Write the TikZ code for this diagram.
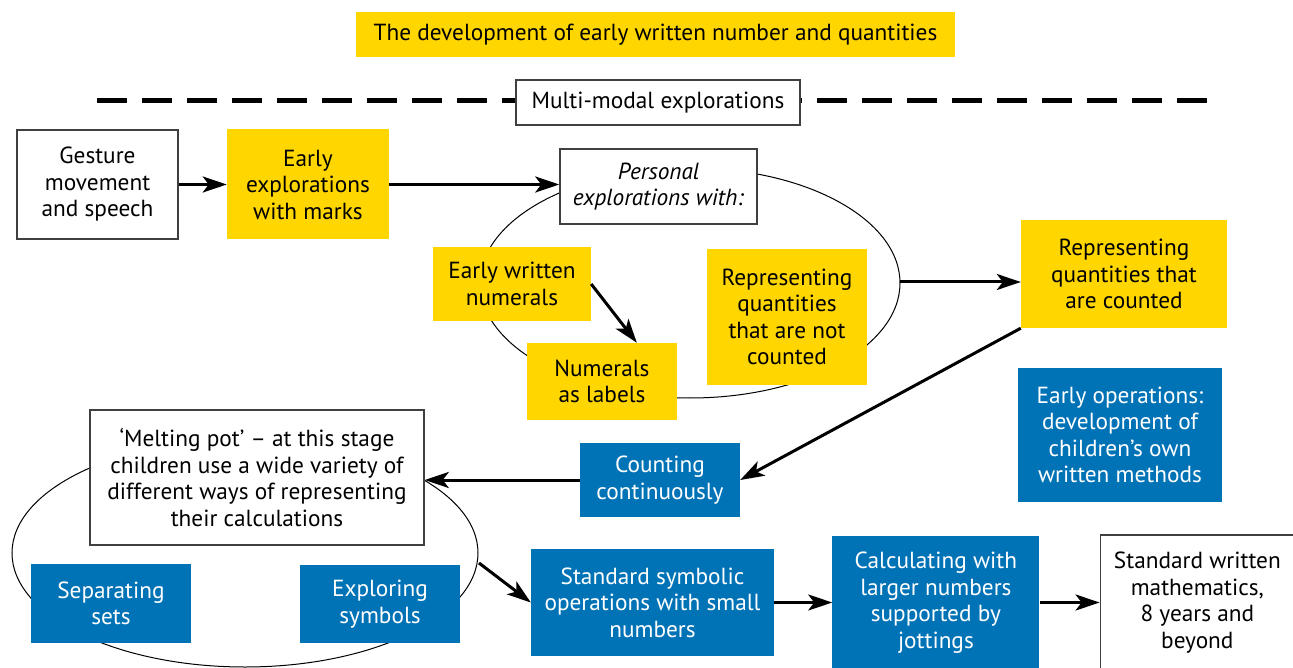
\documentclass[tikz,border=0pt]{standalone}
\usepackage{fontspec}
\setmainfont{PT Sans}
\usetikzlibrary{positioning}
\usetikzlibrary{arrows.meta}
\definecolor{gold}{RGB}{255,214,0}
\definecolor{sea}{RGB}{0,114,182}
\tikzset{
    every node/.style={
        align=center,
        inner sep=0pt,
        font=\fontsize{23.3}{26.5}\selectfont},
    plainbox/.style={draw=black!75, line width=1.5pt, fill=white},
    yellowbox/.style={fill=gold},
    bluebox/.style={fill=sea, text=white},
    dashline/.style={line width=5pt, dash pattern=on 30pt off 15pt},
    loop line/.style={line width=1pt},
    every edge/.style={
        draw,
        -{Stealth[length=24pt,width=16pt,inset=6pt]},
        line width=3pt}}

\begin{document}
\begin{tikzpicture}[x=1pt,y=-1pt]
    \useasboundingbox (0,0) rectangle (1293,668);
    % heading and the dashed rule
    \node[yellowbox, minimum width=599pt, minimum height=45pt] (title) at (655.5,34.5) {The development of early written number and quantities};
    \coordinate (dl) at (97,101);
    \coordinate (dr) at (1208,101);
    \draw[dashline] (dl) -- (dr);
    \node[plainbox, minimum width=284pt, minimum height=45pt] (modes) at (658,102.5) {Multi-modal explorations};
    % the two loops
    \draw[loop line] (690,283) ellipse [x radius=210, y radius=115];
    \draw[loop line] (245,553) ellipse [x radius=233, y radius=114];
    \coordinate (e1r) at (900,282);
    \coordinate (e2r) at (479,563);
    % top part
    \node[plainbox, minimum width=161pt, minimum height=109pt] (gesture) at (97.5,184.5) {Gesture\\movement\\and speech};
    \node[yellowbox, minimum width=162pt, minimum height=110pt, right=48pt of gesture] (early) {Early\\explorations\\with marks};
    \node[plainbox, minimum width=197pt, minimum height=75pt] (personal) at (658.5,186.5) {\textit{Personal}\\\textit{explorations with:}};
    \node[yellowbox, minimum width=158pt, minimum height=74pt] (written) at (512,284) {Early written\\numerals};
    \node[yellowbox, minimum width=150pt, minimum height=77pt] (labels) at (602,381.5) {Numerals\\as labels};
    \node[yellowbox, minimum width=160pt, minimum height=136pt] (notcounted) at (787,317) {Representing\\quantities\\that are not\\counted};
    \node[yellowbox, minimum width=206pt, minimum height=108pt] (counted) at (1124,274) {Representing\\quantities that\\are counted};
    % middle part
    \node[bluebox, minimum width=204pt, minimum height=134pt] (ops) at (1120,435) {Early operations:\\development of\\children’s own\\written methods};
    \node[bluebox, minimum width=160pt, minimum height=74pt] (continuous) at (660,480) {Counting\\continuously};
    \node[plainbox, minimum width=334pt, minimum height=135pt] (melting) at (257,477.5) {‘Melting pot’ -- at this stage\\children use a wide variety of\\different ways of representing\\their calculations};
    \node[bluebox, minimum width=160pt, minimum height=79pt] (sets) at (111,603.5) {Separating\\sets};
    \node[bluebox, minimum width=160pt, minimum height=78pt] (symbols) at (380,604) {Exploring\\symbols};
    % bottom row
    \node[bluebox, minimum width=243pt, minimum height=107pt] (symbolic) at (652.5,602.5) {Standard symbolic\\operations with small\\numbers};
    \node[bluebox, minimum width=207pt, minimum height=133pt, right=58pt of symbolic] (jottings) {Calculating with\\larger numbers\\supported by\\jottings};
    \node[plainbox, minimum width=194pt, minimum height=135pt, right=60pt of jottings] (standard) {Standard written\\mathematics,\\8 years and\\beyond};
    \draw (gesture) edge (gesture -| early.west);
    \draw (early) edge (early -| personal.west);
    \draw (written.east) edge (labels.48);
    \draw (e1r) edge (e1r -| counted.west);
    \draw (counted.south west) edge (continuous.east);
    \draw (continuous.west) edge (continuous.west -| melting.east);
    \draw (e2r) edge (symbolic.west);
    \draw (symbolic) edge (jottings);
    \draw (jottings) edge (standard);
\end{tikzpicture}
\end{document}
